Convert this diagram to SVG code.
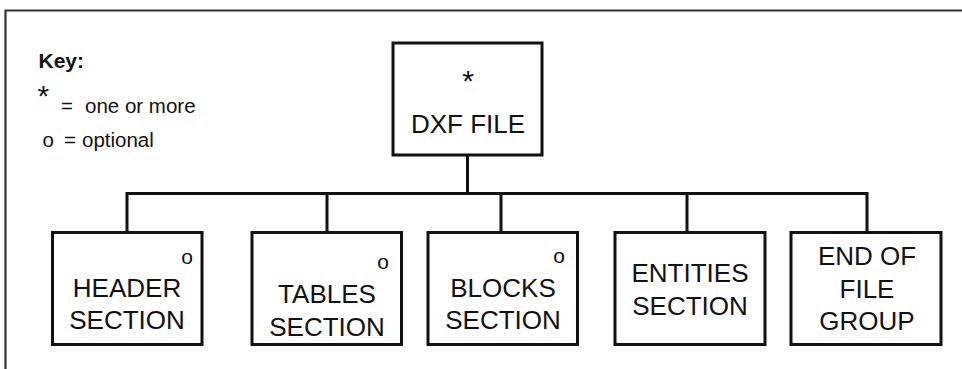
<svg xmlns="http://www.w3.org/2000/svg" width="962" height="369" viewBox="0 0 962 369">
<style>
.box{fill:#fff;stroke:#111;stroke-width:3}
.ln{fill:none;stroke:#111;stroke-width:3}
.frame{fill:none;stroke:#333;stroke-width:2.2}
text{font-family:"Liberation Sans",Arial,sans-serif;fill:#111}
.lbl{font-size:26px;text-anchor:middle}
.key{font-size:20.5px}
.opt{font-size:21px;text-anchor:middle}
.star{font-size:30px}
</style>
<rect width="962" height="369" fill="#fff"/>
<path class="frame" d="M962,10.5 H5.5 V369"/>
<g id="key">
<text x="38.5" y="68" font-size="21" font-weight="bold">Key:</text>
<text x="37.5" y="106" class="star">*</text>
<text x="61" y="113" class="key">=</text>
<text x="85" y="113" class="key">one or more</text>
<text x="42.5" y="147" class="key">o</text>
<text x="64" y="147" class="key">=</text>
<text x="82" y="147" class="key">optional</text>
</g>
<g id="connectors">
<path class="ln" d="M467.5,155 V193.5 M127,193.5 H867 M127,192 V232 M327,192 V232 M501,192 V232 M687,192 V232 M867,192 V232"/>
</g>
<g id="dxf">
<rect class="box" x="393" y="43" width="149" height="112"/>
<text x="468" y="91" class="star" text-anchor="middle">*</text>
<text x="468" y="133" class="lbl">DXF FILE</text>
</g>
<g id="header">
<rect class="box" x="52.5" y="232.5" width="149.5" height="112"/>
<text x="187" y="264" class="opt">o</text>
<text x="127" y="297" class="lbl">HEADER</text>
<text x="127" y="329" class="lbl">SECTION</text>
</g>
<g id="tables">
<rect class="box" x="252" y="232.5" width="149.5" height="112"/>
<text x="383" y="269" class="opt">o</text>
<text x="327" y="303" class="lbl">TABLES</text>
<text x="327" y="336" class="lbl">SECTION</text>
</g>
<g id="blocks">
<rect class="box" x="428" y="232.5" width="149.5" height="112"/>
<text x="559" y="263" class="opt">o</text>
<text x="503" y="297" class="lbl">BLOCKS</text>
<text x="503" y="329" class="lbl">SECTION</text>
</g>
<g id="entities">
<rect class="box" x="615" y="232.5" width="150" height="112"/>
<text x="690" y="282" class="lbl">ENTITIES</text>
<text x="690" y="315" class="lbl">SECTION</text>
</g>
<g id="eof">
<rect class="box" x="791" y="232.5" width="150" height="112"/>
<text x="867" y="265" class="lbl">END OF</text>
<text x="867" y="298" class="lbl">FILE</text>
<text x="867" y="330" class="lbl">GROUP</text>
</g>
</svg>
